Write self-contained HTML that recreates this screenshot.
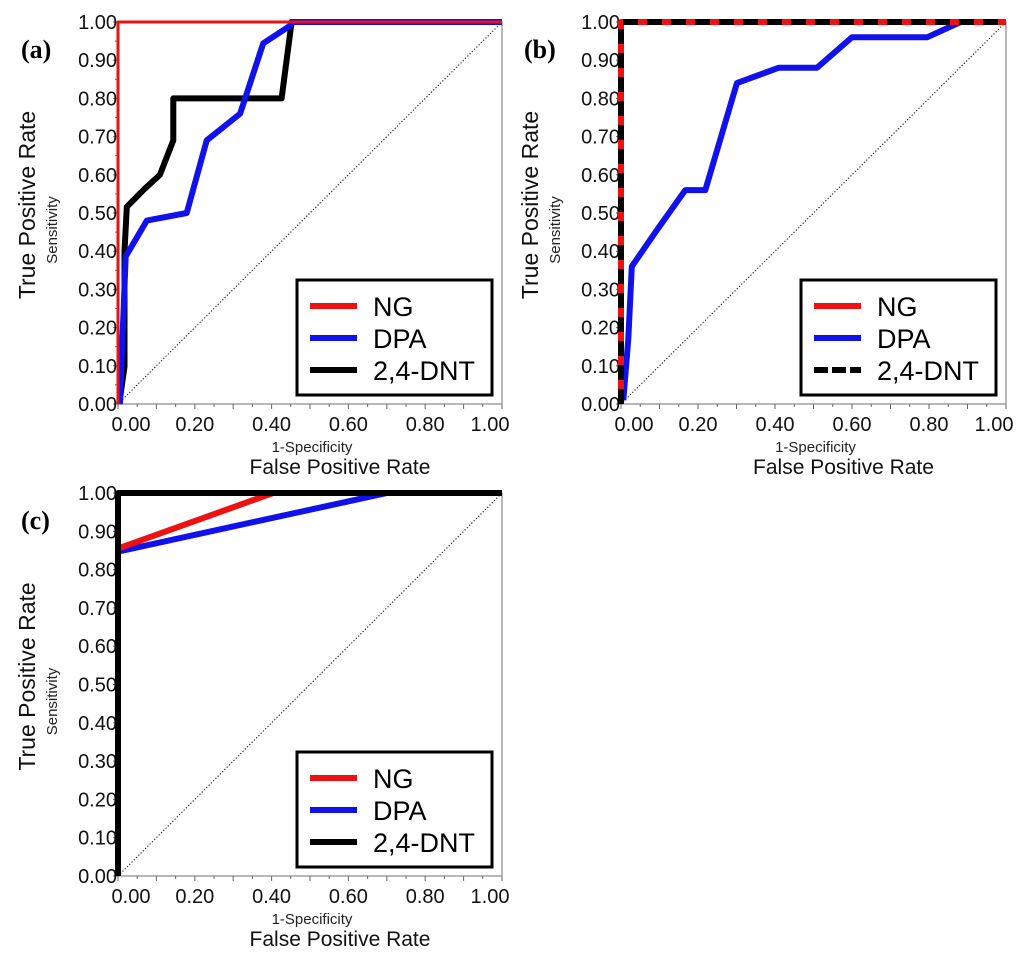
<!DOCTYPE html>
<html><head><meta charset="utf-8"><style>
html,body{margin:0;padding:0;background:#fff;}
svg{display:block;font-family:"Liberation Sans",Arial,sans-serif;}
</style></head><body>
<svg id="fig" width="1024" height="965" viewBox="0 0 1024 965" xmlns="http://www.w3.org/2000/svg"></svg>
<script>
const NS="http://www.w3.org/2000/svg";
// Tick labels
const xTickValues=[0,0.2,0.4,0.6,0.8,1.0];
const yTickValues=[0,0.1,0.2,0.3,0.4,0.5,0.6,0.7,0.8,0.9,1.0];
const legendNames=["NG","DPA","2,4-DNT"];
// Panel (a)
const aNGx=[0,0,1];
const aNGy=[0,1,1];
const aDPAx=[0.005,0.02,0.075,0.179,0.231,0.318,0.378,0.448,0.455,1];
const aDPAy=[0,0.386,0.48,0.50,0.69,0.76,0.944,0.99,1,1];
const aDNTx=[0.003,0.017,0.017,0.023,0.066,0.109,0.144,0.144,0.426,0.452,1];
const aDNTy=[0,0.098,0.40,0.516,0.56,0.60,0.69,0.80,0.80,1,1];
// Panel (b)
const bNGx=[0,0,1];
const bNGy=[0,1,1];
const bDPAx=[0.006,0.019,0.028,0.093,0.167,0.219,0.301,0.409,0.509,0.60,0.795,0.882,1];
const bDPAy=[0.01,0.17,0.36,0.455,0.56,0.56,0.84,0.88,0.88,0.96,0.96,1,1];
const bDNTx=[0,0,1];
const bDNTy=[0,1,1];
// Panel (c)
const cNGx=[0,0,0.404,1];
const cNGy=[0,0.855,1,1];
const cDPAx=[0,0,0.70,1];
const cDPAy=[0,0.847,1,1];
const cDNTx=[0,0,1];
const cDNTy=[0,1,1];

const svg=document.getElementById('fig');
function mk(tag,attrs,parent){const e=document.createElementNS(NS,tag);for(const k in attrs)e.setAttribute(k,attrs[k]);(parent||svg).appendChild(e);return e;}
function txt(str,attrs,parent){const e=mk('text',attrs,parent);e.textContent=str;return e;}

function panel(id,L,R,T,B,series,dntDashed){
  const g=mk('g',{});
  
  
  const xs=v=>L+v*(R-L), ys=v=>B-v*(B-T);
  const fr=mk('rect',{x:L,y:T,width:R-L,height:B-T,fill:'none',stroke:'#888','stroke-width':1.2},g);
  
  
  for(let i=0;i<=20;i++){const v=i/20;const len=(i%2===0)?5:3;
    mk('line',{x1:xs(v),x2:xs(v),y1:B,y2:B+len,stroke:'#666','stroke-width':1},g);
    mk('line',{x1:L-len,x2:L,y1:ys(v),y2:ys(v),stroke:'#666','stroke-width':1},g);}
  xTickValues.forEach((v,i)=>{let x=xs(v);if(i===0)x+=13;if(i===xTickValues.length-1)x-=12;
    const t=txt(v.toFixed(2),{x:x,y:B+27,'font-size':20,'text-anchor':'middle',fill:'#111'},g);
    
    });
  yTickValues.forEach(v=>{
    const t=txt(v.toFixed(2),{x:L-1,y:ys(v)+7,'font-size':20,'text-anchor':'end',fill:'#111'},g);
    
    });
  const d=mk('line',{x1:xs(0),y1:ys(0),x2:xs(1),y2:ys(1),stroke:'#222','stroke-width':1.2,'stroke-dasharray':'1.2,2'},g);
  
  
  const colors=['#ee1111','#1111ee','#000'];
  const order=id==='a'?[2,1,0]:[1,0,2];
  order.forEach(si=>{const s=series[si];
    const pts=s[0].map((x,k)=>xs(x).toFixed(1)+','+ys(s[1][k]).toFixed(1)).join(' ');
    let p;
    if(si===2&&dntDashed){
      p=mk('polyline',{points:pts,fill:'none',stroke:'#000','stroke-width':6,'stroke-dasharray':'15,9'},g);
    } else {
      p=mk('polyline',{points:pts,fill:'none',stroke:colors[si],'stroke-width':si===0&&id==='a'?3:6,'stroke-linejoin':'round'},g);
    }
    
    
  });
  const lg=mk('g',{},g);
  
  
  const lx=R-205,ly=B-124;
  mk('rect',{x:lx,y:ly,width:195,height:115,fill:'#fff',stroke:'#000','stroke-width':3},lg);
  legendNames.forEach((n,i)=>{const yy=ly+26+i*32;
    const e=mk('g',{},lg);
    
    
    if(i===2&&dntDashed){mk('line',{x1:lx+13,x2:lx+60,y1:yy,y2:yy,stroke:'#000','stroke-width':6,'stroke-dasharray':'14,4'},e);}
    else mk('line',{x1:lx+13,x2:lx+60,y1:yy,y2:yy,stroke:colors[i],'stroke-width':6},e);
    txt(n,{x:lx+76,y:yy+10,'font-size':27,fill:'#000'},e);});
  const cx=L+(R-L)/2;
  const t1=txt('1-Specificity',{x:cx+2,y:B+48,'font-size':15,'text-anchor':'middle',fill:'#222'},g);
  
  
  const t2=txt('False Positive Rate',{x:cx+30,y:B+70,'font-size':21,'text-anchor':'middle',fill:'#111'},g);
  
  
  const yc=T+(B-T)/2-8;
  const t3=txt('True Positive Rate',{x:0,y:0,'font-size':23,'text-anchor':'middle',fill:'#111',transform:`translate(${L-83},${yc}) rotate(-90)`},g);
  
  
  const t4=txt('Sensitivity',{x:0,y:0,'font-size':15,'text-anchor':'middle',fill:'#222',transform:`translate(${L-61},${yc+25}) rotate(-90)`},g);
  
  
  const pl=txt('('+id+')',{x:L-97,y:T+36,'font-size':26,'font-weight':'bold','font-family':'"Liberation Serif",serif',fill:'#000'},g);
  
  
}
panel('a',118,502,22,404,[[aNGx,aNGy],[aDPAx,aDPAy],[aDNTx,aDNTy]],false);
panel('b',621,1006,22,404,[[bNGx,bNGy],[bDPAx,bDPAy],[bDNTx,bDNTy]],true);
panel('c',118,502,493,876,[[cNGx,cNGy],[cDPAx,cDPAy],[cDNTx,cDNTy]],false);
</script>
</body></html>
